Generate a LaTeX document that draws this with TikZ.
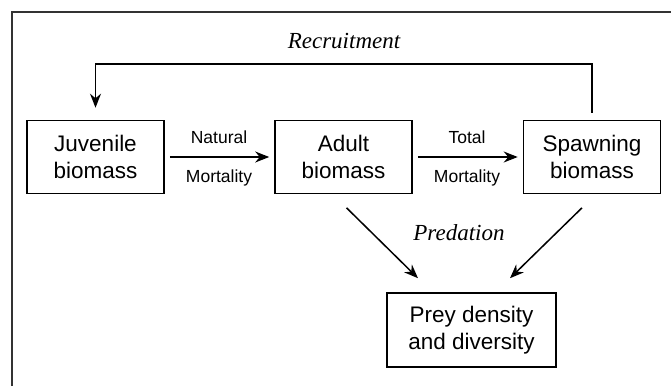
\documentclass[tikz,border=0pt]{standalone}
\usepackage{fontspec}
\setmainfont{Liberation Sans}
\newfontfamily\itfont{Liberation Serif}
\usetikzlibrary{arrows.meta}
\tikzset{
  box/.style={draw=black, line width=1.6pt, minimum width=137pt, minimum height=73pt,
    align=center, inner sep=0pt, font=\fontsize{22.5}{27}\selectfont},
  arr/.style={draw=black, line width=1.5pt, -{Stealth[length=14pt,width=11pt]}},
  lab/.style={font=\fontsize{17.5}{20}\selectfont, inner sep=0pt},
  itlab/.style={font=\itfont\itshape\fontsize{23}{26}\selectfont, inner sep=0pt},
  frame/.style={draw=black!80, line width=1.3pt}
}
\begin{document}
\begin{tikzpicture}[x=1pt,y=-1pt]
\useasboundingbox (0,0) rectangle (671,386);
\coordinate (fb) at (12,386);
\coordinate (fc) at (12,12);
\coordinate (fr) at (671,12);
\draw[frame] (fb) -- (fc) -- (fr);

\node[box] (juv) at (95.5,157) {Juvenile\\biomass};
\node[box] (ad) at (343.5,157) {Adult\\biomass};
\node[box] (sp) at (592,157) {Spawning\\biomass};
\node[box, minimum width=169pt, minimum height=74pt] (pr) at (471.5,330) {Prey density\\and diversity};

\draw[arr, shorten <=5pt, shorten >=5pt] (juv.east) -- (ad.west);
\draw[arr, shorten <=5pt, shorten >=5pt] (ad.east) -- (sp.west);
\node[lab] (nat) at (219,137) {Natural};
\node[lab] (mort1) at (219,178) {Mortality};
\node[lab] (tot) at (467,137) {Total};
\node[lab] (mort2) at (467,178) {Mortality};

\coordinate (rc) at (342,64);
\draw[arr] ([yshift=7pt]sp.north) |- (rc) -| ([yshift=12pt]juv.north);
\node[itlab] (rec) at (344,41) {Recruitment};

\draw[arr] ([xshift=3pt,yshift=-13.5pt]ad.south) -- ([xshift=-53.5pt,yshift=14pt]pr.north);
\draw[arr] ([xshift=-10pt,yshift=-13.5pt]sp.south) -- ([xshift=38.5pt,yshift=14pt]pr.north);
\node[itlab] (pred) at (459,233) {Predation};
\end{tikzpicture}
\end{document}
